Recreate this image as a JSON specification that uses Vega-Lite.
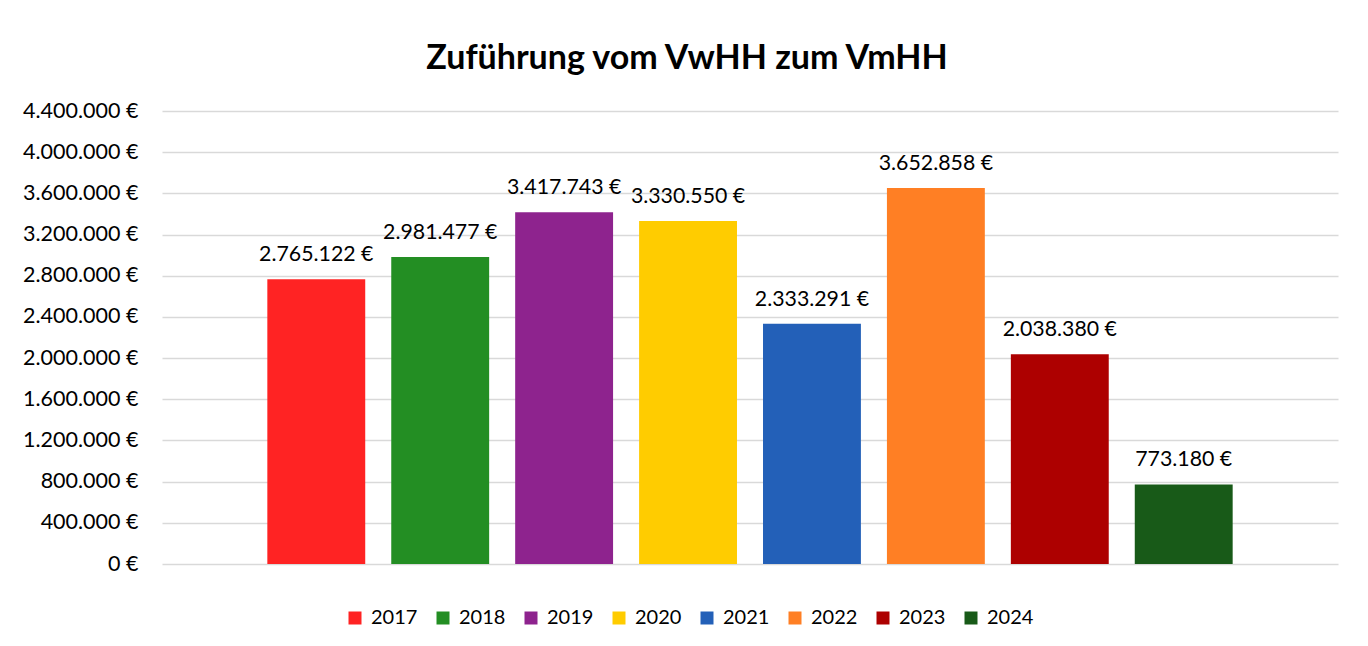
{
  "$schema": "https://vega.github.io/schema/vega-lite/v6.json",
  "width": 1176,
  "height": 453,
  "autosize": {"type": "none"},
  "padding": {"left": 162, "top": 111, "right": 30, "bottom": 82},
  "background": "white",
  "config": {
    "locale": {
      "number": {"decimal": ",", "thousands": ".", "grouping": [3], "currency": ["", " €"]}
    },
    "view": {"stroke": null},
    "font": "Lato"
  },
  "title": {
    "text": "Zuführung vom VwHH zum VmHH",
    "font": "Lato",
    "fontSize": 34,
    "fontWeight": "bold",
    "color": "#000000",
    "anchor": "middle",
    "baseline": "bottom",
    "offset": 36,
    "dy": 46,
    "dx": -63
  },
  "data": {
    "values": [
      {"year": "2017", "value": 2765122},
      {"year": "2018", "value": 2981477},
      {"year": "2019", "value": 3417743},
      {"year": "2020", "value": 3330550},
      {"year": "2021", "value": 2333291},
      {"year": "2022", "value": 3652858},
      {"year": "2023", "value": 2038380},
      {"year": "2024", "value": 773180}
    ]
  },
  "encoding": {
    "x": {
      "field": "year",
      "type": "nominal",
      "axis": null,
      "scale": {"paddingInner": 0.21, "paddingOuter": 0.85}
    },
    "y": {
      "field": "value",
      "type": "quantitative",
      "scale": {"domain": [0, 4400000], "nice": false},
      "axis": {
        "title": null,
        "values": [0, 400000, 800000, 1200000, 1600000, 2000000, 2400000, 2800000, 3200000, 3600000, 4000000, 4400000],
        "format": "$,.0f",
        "domain": false,
        "ticks": false,
        "labelPadding": 24,
        "labelFontSize": 21.5,
        "labelFont": "Lato",
        "labelColor": "#000000",
        "gridColor": "#d9d9d9",
        "gridWidth": 1.3
      }
    }
  },
  "layer": [
    {
      "mark": {"type": "bar"},
      "encoding": {
        "color": {
          "field": "year",
          "type": "nominal",
          "scale": {
            "domain": ["2017", "2018", "2019", "2020", "2021", "2022", "2023", "2024"],
            "range": ["#FF2323", "#238E23", "#8E238E", "#FFCC00", "#2360B8", "#FF7F24", "#AD0000", "#185A18"]
          },
          "legend": {
            "title": null,
            "orient": "none",
            "direction": "horizontal",
            "columns": 8,
            "legendX": 183,
            "legendY": 497,
            "symbolType": "square",
            "symbolSize": 169,
            "symbolStrokeWidth": 0,
            "labelFontSize": 20,
            "labelFont": "Lato",
            "labelColor": "#000000",
            "labelOffset": 6,
            "columnPadding": 15
          }
        }
      }
    },
    {
      "mark": {"type": "text", "baseline": "alphabetic", "dy": -18, "fontSize": 21.3, "font": "Lato", "color": "#000000"},
      "encoding": {
        "text": {"field": "value", "type": "quantitative", "format": "$,.0f"}
      }
    }
  ]
}
